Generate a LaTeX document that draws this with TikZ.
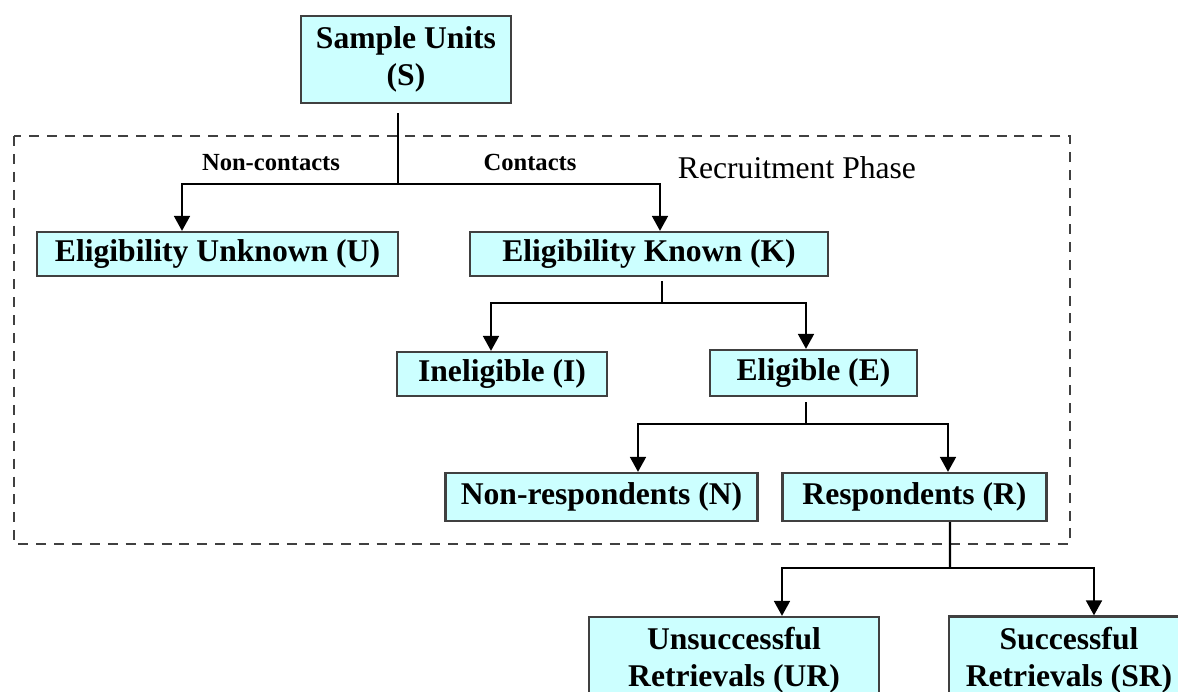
\documentclass[tikz,border=0pt]{standalone}
\usepackage{fontspec}
\setmainfont{Liberation Serif}
\usetikzlibrary{%
	calc,%
	arrows.meta%
}
\definecolor{boxfill}{HTML}{CCFFFF}
\definecolor{boxline}{HTML}{404040}

\begin{document}
\begin{tikzpicture}[x=0.02cm, y=-0.02cm,
		unit/.style={draw=boxline, line width=1.3pt, fill=boxfill, inner sep=0pt,
			align=center, font=\fontsize{18}{21}\selectfont\bfseries},
		link/.style={line width=1.3pt},
		arr/.style={link, -{Triangle[width=9pt,length=8.5pt]}},
		lbl/.style={inner sep=0pt, font=\fontsize{14}{16}\selectfont\bfseries}]
		\useasboundingbox (0,0) rectangle (1178,691);
		% recruitment phase frame
		\draw[boxline, line width=1.3pt, dash pattern=on 5.7pt off 4.5pt] (14,136) rectangle (1070,544);
		\node[inner sep=0pt, font=\fontsize{18}{21}\selectfont] (phase) at (797,168) {Recruitment Phase};
		\node[unit, minimum width=4.2cm, minimum height=1.74cm] (S) at (406,59.5) {Sample Units\\(S)};
		\node[unit, minimum width=7.22cm, minimum height=0.88cm] (U) at (217.5,254) {Eligibility Unknown (U)};
		\node[unit, minimum width=7.16cm, minimum height=0.88cm] (K) at (649,254) {Eligibility Known (K)};
		\node[unit, minimum width=4.2cm, minimum height=0.88cm] (I) at (502,374) {Ineligible (I)};
		\node[unit, minimum width=4.14cm, minimum height=0.92cm] (E) at (813.5,373) {Eligible (E)};
		\node[unit, minimum width=6.24cm, minimum height=0.96cm] (N) at (601.5,497) {Non-respondents (N)};
		\node[unit, minimum width=5.28cm, minimum height=0.96cm] (R) at (914.5,497) {Respondents (R)};
		\node[unit, minimum width=5.8cm, minimum height=1.74cm] (UR) at (734,660.5) {Unsuccessful\\Retrievals (UR)};
		\node[unit, minimum width=4.8cm, minimum height=1.74cm] (SR) at (1069,660) {Successful\\Retrievals (SR)};
		\node[lbl] (noncontacts) at (271,162.5) {Non-contacts};
		\node[lbl] (contacts) at (530,162.5) {Contacts};
		% S splits
		\coordinate (sj) at (398,184);
		\draw[link] ($(S.south)+(-8,9)$) -- (sj);
		\draw[arr] (sj) -| ($(U.north)+(-35.5,0)$);
		\draw[arr] (sj) -| ($(K.north)+(11,0)$);
		% K splits
		\coordinate (kj) at (662,303);
		\draw[link] ($(K.south)+(13,4)$) -- (kj);
		\draw[arr] (kj) -| ($(I.north)+(-11,0)$);
		\draw[arr] (kj) -| ($(E.north)+(-7.5,0)$);
		% E splits
		\coordinate (ej) at (806,424);
		\draw[link] ($(E.south)+(-7.5,5)$) -- (ej);
		\draw[arr] (ej) -| ($(N.north)+(36.5,0)$);
		\draw[arr] (ej) -| ($(R.north)+(33.5,0)$);
		% R splits
		\coordinate (rj) at (950,568);
		\draw[link] ($(R.south)+(35.5,0)$) -- (rj);
		\draw[arr] (rj) -| ($(UR.north)+(48,0)$);
		\draw[arr] (rj) -| ($(SR.north)+(25,0)$);
	\end{tikzpicture}
\end{document}
